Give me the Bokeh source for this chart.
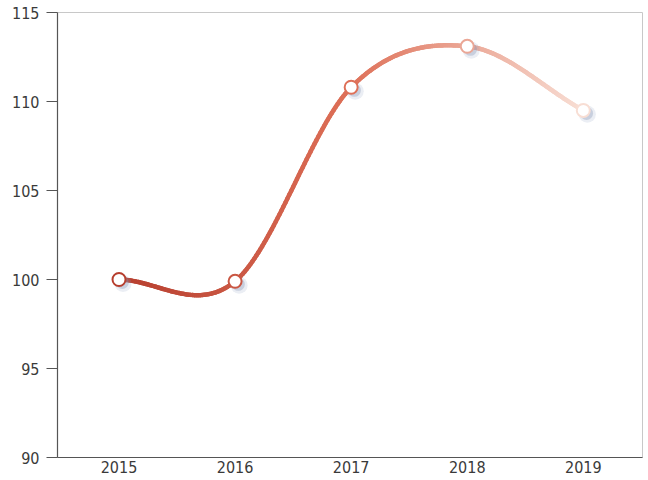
from bokeh.plotting import figure
from bokeh.models import ColumnDataSource, Range1d, FixedTicker
from bokeh.transform import dodge
from bokeh.embed import file_html
from bokeh.resources import INLINE
import numpy as np

# Index values per year
years = [2015, 2016, 2017, 2018, 2019]
values = [100.0, 99.9, 110.8, 113.1, 109.5]
y_ticks = [90, 95, 100, 105, 110, 115]

# Gradient stops for the line (left to right)
grad_start = (182, 62, 46)
grad_mid = (222, 112, 88)
grad_end = (248, 222, 212)


def lerp_color(t):
    if t < 0.5:
        a, b, u = grad_start, grad_mid, t / 0.5
    else:
        a, b, u = grad_mid, grad_end, (t - 0.5) / 0.5
    c = [int(round(a[i] + (b[i] - a[i]) * u)) for i in range(3)]
    return "#%02x%02x%02x" % tuple(c)


def smooth_curve(xs, ys, n_per=60):
    """Cubic Hermite curve through the points with Catmull-Rom tangents."""
    xs = np.asarray(xs, float)
    ys = np.asarray(ys, float)
    n = len(xs)
    m = np.zeros(n)
    for i in range(n):
        if i == 0:
            m[i] = (ys[1] - ys[0]) / (xs[1] - xs[0])
        elif i == n - 1:
            m[i] = (ys[-1] - ys[-2]) / (xs[-1] - xs[-2])
        else:
            m[i] = (ys[i + 1] - ys[i - 1]) / (xs[i + 1] - xs[i - 1])
    cx, cy = [], []
    for i in range(n - 1):
        h = xs[i + 1] - xs[i]
        t = np.linspace(0, 1, n_per, endpoint=(i == n - 2))
        h00 = 2 * t**3 - 3 * t**2 + 1
        h10 = t**3 - 2 * t**2 + t
        h01 = -2 * t**3 + 3 * t**2
        h11 = t**3 - t**2
        cx.extend(xs[i] + t * h)
        cy.extend(h00 * ys[i] + h10 * h * m[i] + h01 * ys[i + 1] + h11 * h * m[i + 1])
    return np.array(cx), np.array(cy)


cx, cy = smooth_curve(years, values)
x0, x1 = years[0], years[-1]
seg_colors = [lerp_color(((cx[i] + cx[i + 1]) / 2 - x0) / (x1 - x0)) for i in range(len(cx) - 1)]
seg_src = ColumnDataSource(dict(x0=cx[:-1], y0=cy[:-1], x1=cx[1:], y1=cy[1:], c=seg_colors))

pt_colors = [lerp_color((yr - x0) / (x1 - x0)) for yr in years]
pt_src = ColumnDataSource(dict(x=years, y=values, c=pt_colors))

p = figure(
    width=648, height=480,
    x_range=Range1d(2014.47, 2019.51), y_range=Range1d(90, 115),
    output_backend="svg", toolbar_location=None,
    min_border_left=57, min_border_right=6, min_border_top=12, min_border_bottom=23,
)
p.background_fill_color = "white"
p.border_fill_color = "white"
p.outline_line_color = "#c8c8c8"
p.outline_line_width = 1
p.xgrid.visible = False
p.ygrid.visible = False

font = "DejaVu Sans Condensed"
for ax in (p.xaxis, p.yaxis):
    ax.axis_line_color = "#555555"
    ax.axis_line_width = 1.2
    ax.major_label_text_font = font
    ax.major_label_text_font_size = "16px"
    ax.major_label_text_color = "#3a3a3a"
    ax.minor_tick_line_color = None

p.xaxis.ticker = FixedTicker(ticks=years)
p.xaxis.major_tick_line_color = None
p.xaxis.major_tick_out = 0
p.xaxis.major_tick_in = 0
p.xaxis.major_label_standoff = 3

p.yaxis.ticker = FixedTicker(ticks=y_ticks)
p.yaxis.major_tick_line_color = "#555555"
p.yaxis.major_tick_out = 11
p.yaxis.major_tick_in = 0
p.yaxis.major_label_standoff = 7

# Gradient line
p.segment("x0", "y0", "x1", "y1", source=seg_src, line_color="c", line_width=4.5, line_cap="round")

# Soft shadows under the markers
p.scatter(x=dodge("x", 0.035, range=p.x_range), y=dodge("y", -0.22, range=p.y_range),
          source=pt_src, size=17, fill_color="#8fa0c0", fill_alpha=0.18, line_color=None)
p.scatter(x=dodge("x", 0.028, range=p.x_range), y=dodge("y", -0.17, range=p.y_range),
          source=pt_src, size=13, fill_color="#8796b4", fill_alpha=0.35, line_color=None)

# Markers
p.scatter("x", "y", source=pt_src, size=13, fill_color="white", line_color="c", line_width=2)

open("out.html", "w").write(file_html(p, INLINE))
